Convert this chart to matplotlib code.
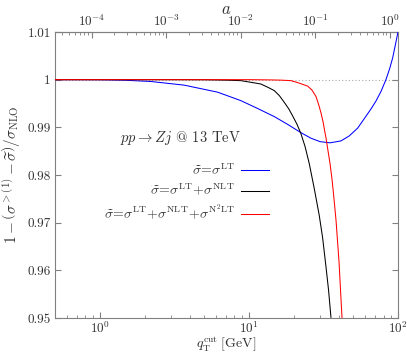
import numpy as np
import matplotlib
matplotlib.use("Agg")
import matplotlib.pyplot as plt
from matplotlib.ticker import FixedLocator, FixedFormatter, LogLocator, NullFormatter

# values (qT in GeV, ratio)
qt_lt = [0.5, 0.7, 1.0, 1.494, 2.198, 3.68, 6.16, 8.83, 11.3, 14.8, 18.3, 22.3,
         26.1, 30.0, 35.0, 41.4, 46.9, 53.6, 59.1, 65.9, 71.2, 76.9, 83.1, 88,
         92.1, 100]
r_lt = [1.0, 1.0, 0.99998, 0.99987, 0.99962, 0.99885, 0.99738, 0.9956, 0.99403,
        0.99225, 0.99057, 0.98889, 0.98771, 0.98700, 0.98675, 0.98715, 0.98816,
        0.98983, 0.99172, 0.99386, 0.99553, 0.99753, 1.00004, 1.00237, 1.00457,
        1.0100]

qt_nlt = [0.5, 3.0, 5.0, 7.0, 8.8, 10.4, 12.0, 13.4, 14.8, 16.0, 17.3, 18.5, 19.6,
          21.0, 22.3, 23.8, 25.4, 27.4, 29.6, 31.2, 32.9, 34.2, 35.5]
r_nlt = [1.0, 1.0, 0.99998, 0.9999, 0.9998, 0.99943, 0.9991, 0.9984, 0.9977,
         0.99665, 0.9952, 0.99388, 0.99245, 0.99065, 0.98872, 0.98597, 0.98237,
         0.97723, 0.97159, 0.96688, 0.96065, 0.95587, 0.95015]

qt_n2lt = [0.5, 10.0, 14.0, 16.4, 19.1, 21.3, 24.8, 26.5, 28.2, 29.5, 30.4, 31.4,
           32.1, 32.9, 33.9, 35.0, 36.1, 37.2, 38.4, 40.2, 42.1]
r_n2lt = [1.0, 1.0, 0.99995, 0.9999, 0.9998, 0.99937, 0.99864, 0.9978, 0.99644,
          0.99455, 0.99308, 0.9912, 0.98952, 0.98774, 0.98512, 0.98239, 0.97904,
          0.97505, 0.97044, 0.96184, 0.9501]

ytick_vals = [0.95, 0.96, 0.97, 0.98, 0.99, 1.0, 1.01]
ytick_labels = ["0.95", "0.96", "0.97", "0.98", "0.99", "1", "1.01"]
atick_vals = [1e-4, 1e-3, 1e-2, 1e-1, 1.0]

labels = [r"$\widetilde{\sigma}\!=\!\sigma^{\rm LT}$",
          r"$\widetilde{\sigma}\!=\!\sigma^{\rm LT}\!+\!\sigma^{\rm NLT}$",
          r"$\widetilde{\sigma}\!=\!\sigma^{\rm LT}\!+\!\sigma^{\rm NLT}\!+\!\sigma^{\rm N^2LT}$"]

# scale for the top axis, a = (qT / scale)^2
a_scale = 88.0

plt.rcParams["font.family"] = "serif"
plt.rcParams["font.serif"] = ["cmr10", "DejaVu Serif"]
plt.rcParams["mathtext.fontset"] = "cm"
plt.rcParams["axes.formatter.use_mathtext"] = True

grey = "#808080"
txt = "#333333"

fig = plt.figure(figsize=(4.07, 3.54), dpi=100)
ax = fig.add_axes([0.1351, 0.1017, 0.8428, 0.8079])

ax.axhline(1.0, color="#aaaaaa", lw=0.8, ls=(0, (1, 2)), zorder=1)
ax.plot(qt_lt, r_lt, color="#0000ff", lw=0.75, label=labels[0], zorder=3)
ax.plot(qt_nlt, r_nlt, color="black", lw=0.75, label=labels[1], zorder=3)
ax.plot(qt_n2lt, r_n2lt, color="#ff0000", lw=0.75, label=labels[2], zorder=4)

ax.set_xscale("log")
ax.set_xlim(0.5, 100)
ax.set_ylim(0.95, 1.01)
ax.yaxis.set_major_locator(FixedLocator(ytick_vals))
ax.yaxis.set_major_formatter(FixedFormatter(ytick_labels))

for s in ax.spines.values():
    s.set_color(grey)
ax.tick_params(which="both", direction="in", colors=grey, labelcolor=txt,
               labelsize=9.5, right=True, pad=3)
ax.tick_params(axis="x", pad=2)
ax.tick_params(which="major", length=4)
ax.tick_params(which="minor", length=2)
ax.xaxis.set_minor_locator(LogLocator(base=10, subs=np.arange(2, 10)))
ax.xaxis.set_minor_formatter(NullFormatter())

top = ax.secondary_xaxis("top", functions=(lambda q: (q / a_scale) ** 2,
                                           lambda a: a_scale * np.sqrt(np.clip(a, 1e-12, None))))
top.set_xscale("log")
top.xaxis.set_major_locator(FixedLocator(atick_vals))
top.xaxis.set_minor_locator(LogLocator(base=10, subs=np.arange(2, 10)))
top.xaxis.set_minor_formatter(NullFormatter())
top.tick_params(which="both", direction="in", colors=grey, labelcolor=txt,
                labelsize=9.5, pad=2)
top.tick_params(which="major", length=4)
top.tick_params(which="minor", length=2)
top.spines["top"].set_color(grey)
top.set_xlabel(r"$a$", fontsize=12, color=txt, labelpad=0)

ax.set_xlabel(r"$q_{\rm T}^{\rm cut}\;$[GeV]", fontsize=10, color=txt)
ax.xaxis.set_label_coords(0.5, -0.06)
ax.set_ylabel(r"$1-\left(\sigma^{>(1)}-\widetilde{\sigma}\right)/\sigma_{\rm NLO}$",
              fontsize=11, color=txt)
ax.yaxis.set_label_coords(-0.092, 0.5)

ax.text(0.365, 0.63, r"$pp\rightarrow Zj$ @ 13 TeV", transform=ax.transAxes,
        ha="center", va="center", fontsize=10.5, color=txt)

leg = ax.legend(loc="upper right", bbox_to_anchor=(0.64, 0.562), frameon=False,
                markerfirst=False, handlelength=2.0, handletextpad=0.45,
                labelspacing=0.33, fontsize=10, borderaxespad=0)
for t in leg.get_texts():
    t.set_color(txt)

fig.savefig("out.png", dpi=100)
